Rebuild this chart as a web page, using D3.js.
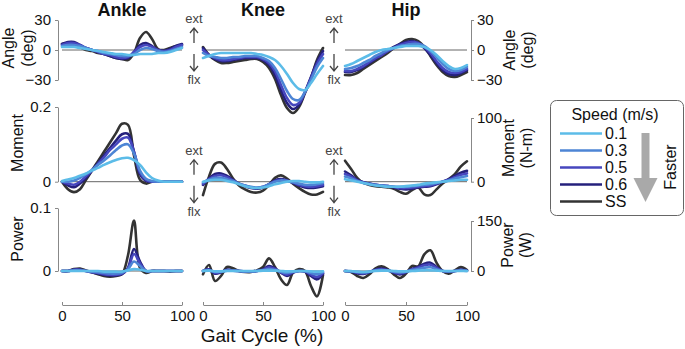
<!DOCTYPE html>
<html><head><meta charset="utf-8">
<script src="https://cdn.jsdelivr.net/npm/d3@7"></script>
<style>
body{margin:0;background:#fff;}
svg{display:block;font-family:"Liberation Sans",Arial,Helvetica,sans-serif;}
</style></head>
<body><svg id="c" width="685" height="349"></svg>
<script>
const speeds = ["0.1","0.3","0.5","0.6","SS"];
const colors = ["#5cbce8","#4d85d5","#4646be","#25207c","#333333"];
const joints = ["Ankle","Knee","Hip"];
const gait = [0,5,10,15,20,25,30,35,40,45,50,55,60,65,70,75,80,85,90,95,100];
const xTicks = [0,50,100];
const angleTicks = [-30,0,30];
const momentTicksL = [0,0.2];
const momentTicksR = [0,100];
const powerTicksL = [0,0.1];
const powerTicksR = [0,150];

// rows: 0.1, 0.3, 0.5, 0.6, SS
const ankleAngle = [
 [3,3,3,2,1,0,-1,-2,-3,-4,-4,-5,-5,-4,-4,-4,-3,-3,-2,0,2],
 [4,5,5,4,2,0,-1,-3,-4,-5,-6,-6,-4,0,2,1,-1,-2,-1,1,3],
 [5,7,7,5,2,0,-2,-4,-5,-7,-8,-7,-2,3,5,3,0,-1,0,3,5],
 [6,8,8,5,2,0,-2,-4,-6,-8,-9,-8,-2,5,7,4,0,-1,1,4,6],
 [6,7,6,3,0,-1,-3,-4,-6,-8,-9,-10,-3,12,18,11,1,0,2,4,5]
];
const kneeAngle = [
 [-8,-6,-4,-3,-3,-3,-3,-3,-3,-4,-5,-7,-10,-16,-24,-33,-39,-40,-33,-24,-16],
 [-3,-6,-7,-8,-8,-7,-7,-6,-6,-6,-8,-11,-18,-29,-41,-49,-50,-42,-30,-17,-8],
 [0,-5,-8,-10,-10,-9,-8,-7,-7,-7,-9,-13,-21,-35,-48,-55,-53,-42,-28,-14,-4],
 [2,-5,-9,-11,-11,-10,-9,-8,-8,-8,-10,-15,-25,-40,-53,-59,-55,-42,-27,-12,-1],
 [3,-5,-10,-13,-13,-12,-11,-10,-9,-9,-12,-18,-29,-45,-58,-63,-57,-43,-28,-10,2]
];
const hipAngle = [
 [-16,-14,-11,-8,-5,-2,0,1,2,3,4,4,4,3,0,-5,-11,-16,-19,-18,-15],
 [-19,-18,-16,-13,-10,-6,-3,0,2,4,5,6,6,4,-1,-7,-14,-19,-21,-20,-17],
 [-21,-21,-19,-16,-12,-8,-5,-1,2,5,7,8,7,3,-3,-11,-18,-22,-23,-22,-19],
 [-22,-22,-20,-17,-13,-9,-5,-1,3,6,8,9,7,2,-5,-13,-20,-24,-25,-23,-20],
 [-25,-25,-23,-19,-15,-11,-7,-3,2,6,10,11,9,3,-6,-15,-22,-26,-27,-25,-22]
];
const ankleMoment = [
 [0.002,0.006,0.01,0.016,0.022,0.03,0.037,0.045,0.052,0.058,0.063,0.064,0.058,0.045,0.025,0.01,0.003,0,0,0,0],
 [0,0,0.003,0.01,0.02,0.032,0.045,0.057,0.07,0.085,0.097,0.1,0.075,0.03,0.008,0.002,0,0,0,0,0],
 [0,-0.005,-0.008,0,0.015,0.03,0.048,0.065,0.085,0.1,0.115,0.118,0.08,0.025,0.005,0,0,0,0,0,0],
 [0,-0.01,-0.015,-0.005,0.01,0.03,0.05,0.07,0.09,0.11,0.127,0.128,0.08,0.02,0.002,0,0,0,0,0,0],
 [0,-0.02,-0.028,-0.02,0.005,0.03,0.055,0.08,0.105,0.13,0.155,0.152,0.07,0.005,-0.005,0,0,0,0,0,0]
];
const kneeMoment = [
 [0,2,3,3,1,-1,-4,-7,-9,-10,-9,-7,-4,-2,0,1,1,0,-1,-1,0],
 [-1,3,6,6,4,1,-3,-6,-8,-9,-8,-4,0,2,1,-1,-3,-5,-5,-4,-2],
 [-3,4,9,10,7,2,-3,-6,-9,-10,-8,-4,1,3,2,-1,-5,-7,-8,-7,-5],
 [-5,5,12,13,9,3,-3,-7,-10,-11,-9,-4,2,4,2,-2,-6,-9,-10,-9,-7],
 [-21,8,28,30,20,5,-6,-12,-16,-17,-14,-5,6,10,5,-3,-10,-16,-20,-20,-16]
];
const hipMoment = [
 [4,2,0,-2,-4,-6,-7,-8,-8,-8,-7,-6,-5,-3,-2,-1,0,1,2,3,3],
 [8,5,1,-2,-4,-5,-6,-7,-8,-8,-8,-7,-6,-5,-4,-2,0,2,5,7,9],
 [12,8,2,-1,-3,-5,-6,-7,-8,-10,-10,-9,-8,-7,-6,-3,0,3,7,11,13],
 [16,10,3,-1,-3,-5,-6,-7,-9,-11,-12,-11,-9,-8,-7,-4,0,4,9,14,17],
 [33,20,6,-2,-5,-7,-8,-9,-11,-16,-19,-13,-9,-20,-21,-12,-3,4,12,24,32]
];
const anklePower = [
 [0,0,0,0,0,0,0,-0.001,-0.001,-0.001,-0.001,0.001,0.003,0.002,0,0,0,0,0,0,0],
 [0,0,0.001,0.001,0,-0.001,-0.002,-0.003,-0.004,-0.004,-0.003,0.003,0.015,0.008,0,0,0,0,0,0,0],
 [0,0,0.002,0.002,0,-0.002,-0.003,-0.005,-0.006,-0.006,-0.004,0.004,0.027,0.012,0,0,0,0,0,0,0],
 [0,0,0.002,0.002,0,-0.002,-0.004,-0.006,-0.007,-0.007,-0.005,0.005,0.035,0.015,0,0,0,0,0,0,0],
 [0,0,0.003,0.004,0.001,-0.002,-0.005,-0.008,-0.009,-0.008,-0.005,0.025,0.08,0.005,-0.003,0,0,0,-0.001,0,0]
];
const kneePower = [
 [0,1,-1,-1,0,0,0,0,0,0,1,1,1,0,-1,-1,0,0,-1,-2,-1],
 [0,2,-3,-2,1,1,0,-1,-1,0,2,6,3,-2,-6,-2,0,-1,-6,-10,-3],
 [0,4,-6,-3,3,1,0,-1,-1,0,4,11,6,-4,-11,-4,0,-1,-11,-18,-6],
 [0,5,-8,-4,4,2,0,-2,-2,0,5,15,8,-5,-15,-5,0,-2,-15,-25,-8],
 [-10,18,-30,-15,12,8,0,-3,-3,2,12,38,12,-25,-42,-5,6,0,-45,-76,-12]
];
const hipPower = [
 [0,0,-2,-3,-2,0,1,1,0,-1,-1,0,1,2,2,1,0,0,0,0,0],
 [0,-1,-3,-4,-2,2,3,1,-2,-4,-2,3,6,10,11,5,0,-1,0,2,0],
 [0,-1,-5,-7,-3,3,5,2,-4,-7,-3,5,10,17,19,9,0,-2,0,3,1],
 [0,-2,-7,-9,-4,4,7,3,-5,-10,-4,6,12,22,25,12,0,-3,0,4,1],
 [0,-3,-15,-21,-10,8,14,6,-10,-21,-8,15,14,50,62,25,0,-8,2,12,3]
];

const svg = d3.select("#c");
const FONT = "Liberation Sans, Arial, Helvetica, sans-serif";

const xA = d3.scaleLinear().domain([0,100]).range([62,182]);
const xK = d3.scaleLinear().domain([0,100]).range([203,323]);
const xH = d3.scaleLinear().domain([0,100]).range([345,467]);
const xs = [xA,xK,xH];

const yAng = d3.scaleLinear().domain([-30,30]).range([80,20]);
const yMomL = d3.scaleLinear().domain([0,0.2]).range([181.7,107]);
const yMomR = d3.scaleLinear().domain([0,100]).range([181.7,118]);
const yPowL = d3.scaleLinear().domain([0,0.1]).range([271,208]);
const yPowR = d3.scaleLinear().domain([0,150]).range([271,221]);

const panels = [
 {data:ankleAngle,x:xA,y:yAng},{data:kneeAngle,x:xK,y:yAng},{data:hipAngle,x:xH,y:yAng},
 {data:ankleMoment,x:xA,y:yMomL},{data:kneeMoment,x:xK,y:yMomR},{data:hipMoment,x:xH,y:yMomR},
 {data:anklePower,x:xA,y:yPowL},{data:kneePower,x:xK,y:yPowR},{data:hipPower,x:xH,y:yPowR}
];

// zero lines
panels.forEach(p=>{
  svg.append("line").attr("x1",p.x(0)).attr("x2",p.x(100))
    .attr("y1",p.y(0)).attr("y2",p.y(0))
    .attr("stroke","#555").attr("stroke-width",0.9);
});

// series
panels.forEach(p=>{
  const line = d3.line().x((d,i)=>p.x(gait[i])).y(d=>p.y(d)).curve(d3.curveCatmullRom.alpha(0.5));
  for(let s=4;s>=0;s--){
    svg.append("path").attr("d",line(p.data[s])).attr("fill","none")
      .attr("stroke",colors[s]).attr("stroke-width",2.6)
      .attr("stroke-linejoin","round").attr("stroke-linecap","round");
  }
});

function styleAxis(g){
  g.select(".domain").attr("stroke","#888").attr("stroke-width",1);
  g.selectAll(".tick line").attr("stroke","#888");
  g.selectAll(".tick text").attr("fill","#111").style("font-size","15px").style("font-family",FONT);
}

// left axes
[[yAng,angleTicks,d3.format("d")],[yMomL,momentTicksL,v=>v===0?"0":String(v)],[yPowL,powerTicksL,v=>v===0?"0":String(v)]].forEach(([y,t,f])=>{
  const g = svg.append("g").attr("transform","translate(58,0)")
    .call(d3.axisLeft(y).tickValues(t).tickFormat(f).tickSize(3).tickSizeOuter(0).tickPadding(4));
  styleAxis(g);
});
// right axes
[[yAng,angleTicks],[yMomR,momentTicksR],[yPowR,powerTicksR]].forEach(([y,t])=>{
  const g = svg.append("g").attr("transform","translate(471,0)")
    .call(d3.axisRight(y).tickValues(t).tickFormat(d3.format("d")).tickSize(3).tickSizeOuter(0).tickPadding(3));
  styleAxis(g);
});
// bottom axes
xs.forEach(x=>{
  const g = svg.append("g").attr("transform","translate(0,305)")
    .call(d3.axisBottom(x).tickValues(xTicks).tickSize(-3).tickSizeOuter(0).tickPadding(5));
  styleAxis(g);
  g.selectAll(".tick text").attr("dy","0.71em");
});

// titles
joints.forEach((j,i)=>{
  svg.append("text").attr("x",xs[i](50)).attr("y",15.5).attr("text-anchor","middle")
    .style("font-size","18px").style("font-weight","bold").attr("fill","#111").text(j);
});
svg.append("text").attr("x",262).attr("y",342).attr("text-anchor","middle")
  .style("font-size","19px").attr("fill","#111").text("Gait Cycle (%)");

// y labels
function vlabel(x,y,txt){
  svg.append("text").attr("transform",`translate(${x},${y}) rotate(-90)`)
    .attr("text-anchor","middle").style("font-size","16px").attr("fill","#111").text(txt);
}
vlabel(13.5,48,"Angle"); vlabel(33,48,"(deg)");
vlabel(23,143,"Moment");
vlabel(23,239,"Power");
vlabel(515,50,"Angle"); vlabel(533,50,"(deg)");
vlabel(514,148,"Moment"); vlabel(532,148,"(N-m)");
vlabel(513,245,"Power"); vlabel(531,245,"(W)");

// ext / flx indicators
function arrowV(x,y1,y2){
  const dir = y2<y1 ? -1 : 1;
  svg.append("path").attr("d",`M${x},${y1}L${x},${y2}M${x-4},${y2-dir*5}L${x},${y2}L${x+4},${y2-dir*5}`)
    .attr("fill","none").attr("stroke","#444").attr("stroke-width",1.3);
}
[[194,50],[334,50],[194,181.7],[334,181.7]].forEach(([x,z])=>{
  svg.append("text").attr("x",x).attr("y",z-27).attr("text-anchor","middle")
    .style("font-size","13px").attr("fill","#444").text("ext");
  arrowV(x,z-7,z-22);
  arrowV(x,z+4,z+21);
  svg.append("text").attr("x",x).attr("y",z+34).attr("text-anchor","middle")
    .style("font-size","13px").attr("fill","#444").text("flx");
});

// legend
const lg = svg.append("g");
lg.append("rect").attr("x",550.5).attr("y",100.5).attr("width",133).attr("height",115)
  .attr("rx",6).attr("fill","#fff").attr("stroke","#666").attr("stroke-width",1);
lg.append("text").attr("x",615).attr("y",120).attr("text-anchor","middle")
  .style("font-size","16px").attr("fill","#111").text("Speed (m/s)");
const ly = d3.scalePoint().domain(speeds).range([133.5,201.5]);
speeds.forEach((s,i)=>{
  lg.append("line").attr("x1",560).attr("x2",602).attr("y1",ly(s)).attr("y2",ly(s))
    .attr("stroke",colors[i]).attr("stroke-width",2.6);
  lg.append("text").attr("x",605).attr("y",ly(s)).attr("dy","0.36em")
    .style("font-size","16px").attr("fill","#111").text(s);
});
lg.append("path").attr("d","M641.5,133L649.5,133L649.5,178L657.5,178L645.5,202L633.5,178L641.5,178Z")
  .attr("fill","#a9a9a9");
lg.append("text").attr("transform","translate(676,167) rotate(-90)").attr("text-anchor","middle")
  .style("font-size","16px").attr("fill","#111").text("Faster");
</script></body></html>
